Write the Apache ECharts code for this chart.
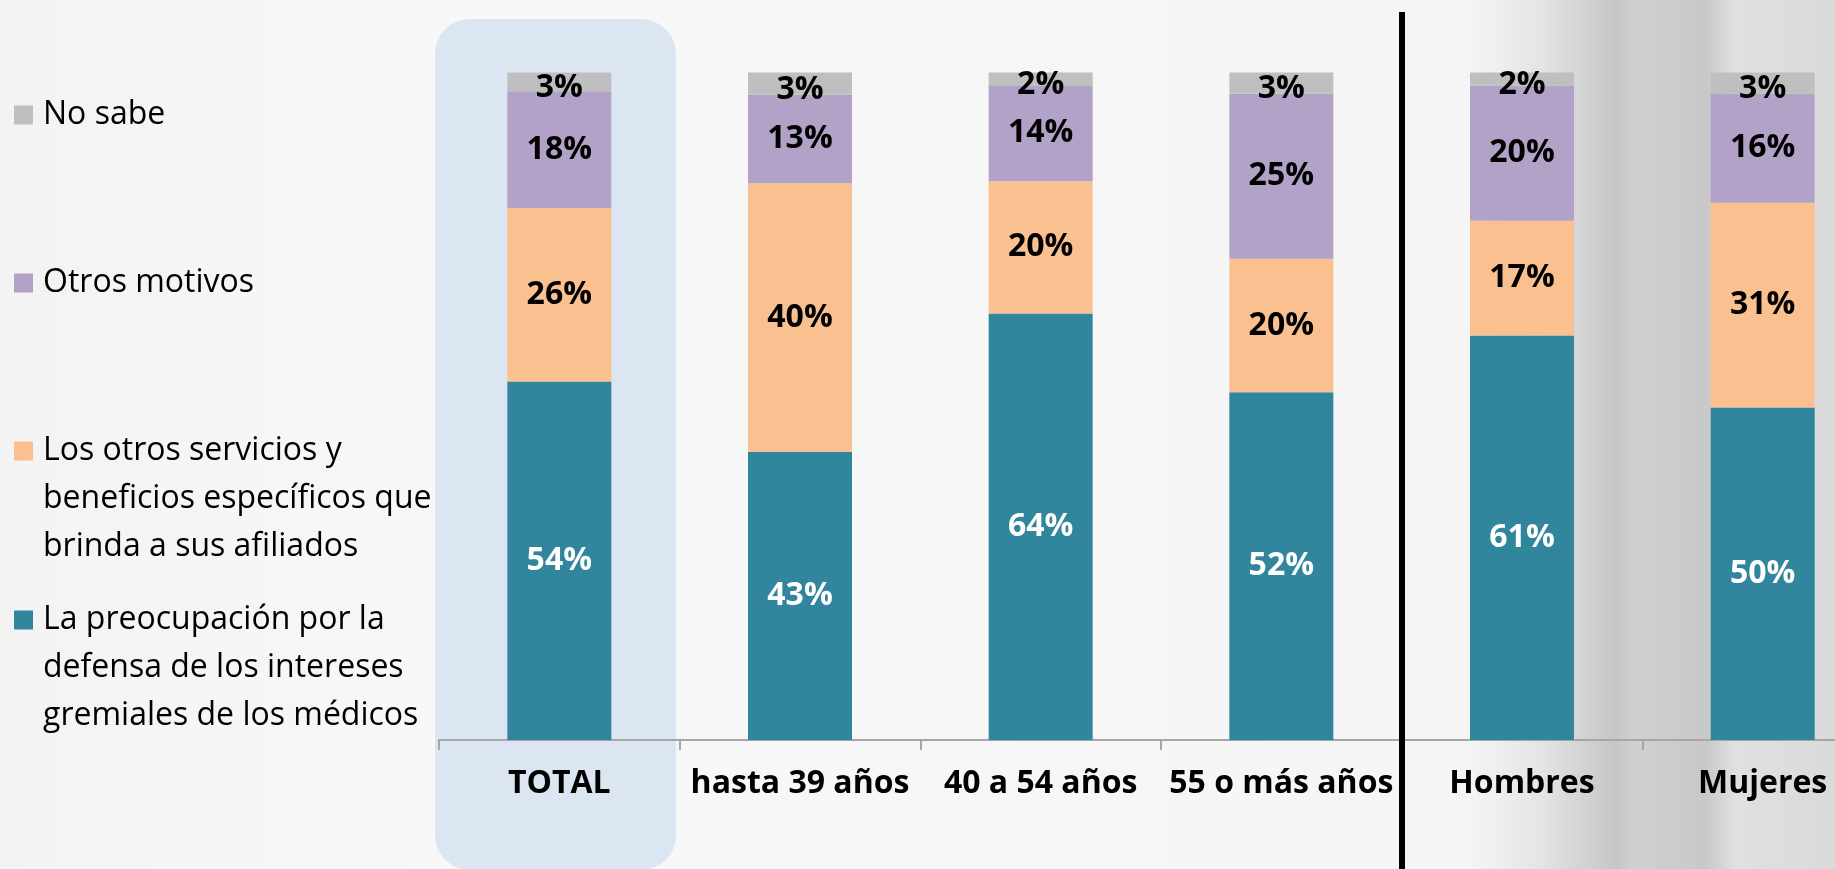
<!DOCTYPE html>
<html>
<head>
<meta charset="utf-8">
<script src="https://cdn.jsdelivr.net/npm/echarts@6/dist/echarts.min.js"></script>
<style>
html,body{margin:0;padding:0;}
#chart{width:1835px;height:869px;}
</style>
</head>
<body>
<div id="chart"></div>
<script>
const categories = ['TOTAL', 'hasta 39 años', '40 a 54 años', '55 o más años', 'Hombres', 'Mujeres'];
const seriesNames = [
  'La preocupación por la\ndefensa de los intereses\ngremiales de los médicos',
  'Los otros servicios y\nbeneficios específicos que\nbrinda a sus afiliados',
  'Otros motivos',
  'No sabe'
];
const defensa   = [53.7, 43.2, 63.9, 52.1, 60.6, 49.8];
const servicios = [26.0, 40.2, 19.8, 20.0, 17.2, 30.7];
const otros     = [17.5, 13.3, 14.4, 24.7, 20.2, 16.3];
const noSabe    = [2.8, 3.3, 1.9, 3.2, 2.0, 3.2];

const colors = ['#31859C', '#FAC090', '#B3A2C7', '#BFBFBF'];
const labelColors = ['#ffffff', '#000000', '#000000', '#000000'];
const values = [defensa, servicios, otros, noSabe];

const chart = echarts.init(document.getElementById('chart'));

function mkSeries(i) {
  return {
    name: seriesNames[i],
    type: 'bar',
    stack: 'total',
    barWidth: 104,
    data: values[i],
    itemStyle: { color: colors[i] },
    z: 3,
    label: {
      show: true,
      position: 'inside',
      offset: i === 3 ? [0, 6] : [0, 0],
      formatter: p => Math.round(p.value) + '%',
      color: labelColors[i],
      fontFamily: 'Open Sans',
      fontWeight: 'bold',
      fontSize: 32
    }
  };
}

function mkLegend(i, top, blankLines) {
  return {
    data: [seriesNames[i]],
    left: 9,
    top: top,
    orient: 'vertical',
    icon: 'rect',
    itemWidth: 19,
    itemHeight: 19,
    formatter: name => '\n'.repeat(blankLines) + name,
    textStyle: {
      fontFamily: 'Open Sans',
      fontSize: 32,
      lineHeight: 48,
      color: '#000',
      padding: [0, 0, 0, 5]
    }
  };
}

const option = {
  backgroundColor: {
    type: 'linear', x: 0, y: 0, x2: 1, y2: 0,
    colorStops: [
      { offset: 0, color: '#f3f3f3' },
      { offset: 0.25, color: '#f8f8f8' },
      { offset: 0.8, color: '#f5f5f5' },
      { offset: 0.84, color: '#e4e4e4' },
      { offset: 0.88, color: '#c6c6c6' },
      { offset: 0.89, color: '#d0d0d0' },
      { offset: 0.93, color: '#c8c8c8' },
      { offset: 0.945, color: '#e0e0e0' },
      { offset: 1, color: '#dadada' }
    ]
  },
  animation: false,
  graphic: [
    {
      type: 'rect',
      z: -10,
      shape: { x: 435, y: 19, width: 241, height: 851, r: 35 },
      style: { fill: '#DCE6F2' }
    },
    {
      type: 'line',
      z: 10,
      shape: { x1: 1402, y1: 12, x2: 1402, y2: 869 },
      style: { stroke: '#000', lineWidth: 6 }
    }
  ],
  legend: [
    mkLegend(3, 86, 0),
    mkLegend(2, 254, 0),
    mkLegend(1, 326, 2),
    mkLegend(0, 495, 2)
  ],
  grid: { left: 439, top: 72.5, width: 1444, height: 667.5, outerBoundsMode: 'none', containLabel: false },
  xAxis: {
    type: 'category',
    data: categories,
    axisLine: { lineStyle: { color: '#a6a6a6', width: 2 } },
    axisTick: { show: true, length: 10, interval: 0, lineStyle: { color: '#a6a6a6', width: 2 } },
    axisLabel: {
      interval: 0,
      margin: 28,
      color: '#000',
      fontFamily: 'Open Sans',
      fontWeight: 'bold',
      fontSize: 32
    }
  },
  yAxis: {
    type: 'value',
    min: 0,
    max: 100,
    show: false
  },
  series: [mkSeries(0), mkSeries(1), mkSeries(2), mkSeries(3)]
};
chart.setOption(option);
</script>
</body>
</html>
